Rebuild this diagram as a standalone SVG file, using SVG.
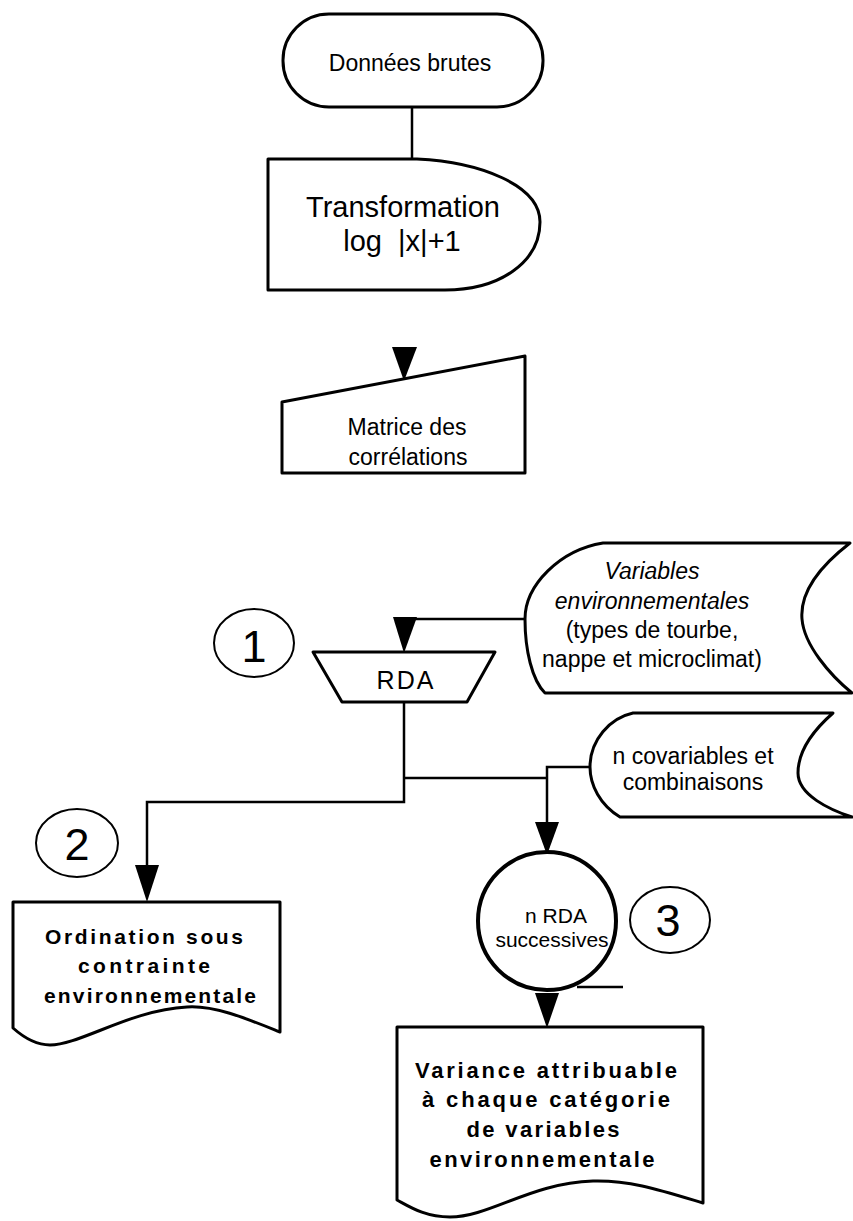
<svg xmlns="http://www.w3.org/2000/svg" width="853" height="1221" viewBox="0 0 853 1221">
<style>
.s{fill:#fff;stroke:#000;stroke-width:3;stroke-linejoin:round}
.c{fill:none;stroke:#000;stroke-width:2.5}
.n{fill:none;stroke:#000;stroke-width:2}
.a{fill:#000;stroke:none}
.t{font-family:"Liberation Sans",Arial,sans-serif;fill:#000;text-anchor:middle}
.b{font-family:"Liberation Sans",Arial,sans-serif;font-weight:bold;fill:#000;text-anchor:middle}
</style>
<rect width="853" height="1221" fill="#fff"/>
<g id="connectors">
<path class="c" d="M412,107 L412,159"/>
<polygon class="a" points="392,347 417,347 404,381"/>
<path class="c" d="M525,619 L404,619"/>
<polygon class="a" points="393,617 417,617 404,653"/>
<path class="c" d="M404,702 L404,802 L147,802 L147,866"/>
<polygon class="a" points="135,865 159,865 147,902"/>
<path class="c" d="M404,778 L547,778"/>
<path class="c" d="M590,767 L547,767 L547,823"/>
<polygon class="a" points="535,822 559,822 547,855"/>
<path class="c" d="M577,987 L623,987"/>
<polygon class="a" points="535,993 559,993 547,1028"/>
</g>
<g id="donnees">
<rect class="s" x="283" y="14" width="260" height="93" rx="46" ry="46"/>
<text class="t" x="410" y="71" font-size="23">Données brutes</text>
</g>
<g id="transformation">
<path class="s" d="M268,159 L417,159 C480,162 540,185 540,222 C540,262 500,290 445,290 L268,290 Z"/>
<text class="t" x="403" y="217" font-size="29">Transformation</text>
<text class="t" x="402" y="251" font-size="29" xml:space="preserve">log  |x|+1</text>
</g>
<g id="matrice">
<polygon class="s" points="282,402 525,356 525,473 282,473"/>
<text class="t" x="407" y="435" font-size="23">Matrice des</text>
<text class="t" x="408" y="465" font-size="23">corrélations</text>
</g>
<g id="label1">
<ellipse class="n" cx="254" cy="643" rx="40" ry="34"/>
<text class="t" x="254" y="662" font-size="45">1</text>
</g>
<g id="rda">
<polygon class="s" points="313,652 495,652 467,702 342,702"/>
<text class="t" x="406" y="689" font-size="25" letter-spacing="2">RDA</text>
</g>
<g id="variables">
<path class="s" d="M603,543 L850,543 C815,570 800,595 802,619 C804,645 830,675 852,693 L545,693 C532,680 525,650 525,619 C525,585 560,550 603,543 Z"/>
<text class="t" x="652" y="579" font-size="23" font-style="italic">Variables</text>
<text class="t" x="652" y="609" font-size="23" font-style="italic">environnementales</text>
<text class="t" x="652" y="638" font-size="23">(types de tourbe,</text>
<text class="t" x="652" y="667" font-size="23">nappe et microclimat)</text>
</g>
<g id="covariables">
<path class="s" d="M633,713 L833,713 C808,735 798,755 798,773 C798,795 830,810 852,817 L620,817 C600,805 590,785 590,767 C590,740 610,718 633,713 Z"/>
<text class="t" x="693" y="764" font-size="23">n covariables et</text>
<text class="t" x="693" y="790" font-size="23">combinaisons</text>
</g>
<g id="label2">
<ellipse class="n" cx="77" cy="843" rx="41" ry="34"/>
<text class="t" x="77" y="860" font-size="45">2</text>
</g>
<g id="ordination">
<path class="s" d="M13,902 L280,902 L280,1032 C250,1020 215,1005 187,1007 C130,1010 80,1045 50,1045 C35,1045 22,1036 13,1028 Z"/>
<text class="b" x="144" y="944" font-size="21" textLength="198" lengthAdjust="spacing">Ordination sous</text>
<text class="b" x="144" y="973" font-size="21" textLength="132" lengthAdjust="spacing">contrainte</text>
<text class="b" x="150" y="1003" font-size="21" textLength="212" lengthAdjust="spacing">environnementale</text>
</g>
<g id="nrda">
<circle cx="547" cy="921" r="69" fill="#fff" stroke="#000" stroke-width="4"/>
<text class="t" x="556" y="923" font-size="21">n RDA</text>
<text class="t" x="552" y="947" font-size="21">successives</text>
</g>
<g id="label3">
<ellipse class="n" cx="670" cy="920" rx="40" ry="33"/>
<text class="t" x="668" y="936" font-size="45">3</text>
</g>
<g id="variance">
<path class="s" d="M397,1027 L703,1027 L703,1203 C660,1190 630,1180 593,1181 C530,1183 490,1217 450,1217 C425,1217 410,1207 397,1200 Z"/>
<text class="b" x="546" y="1078" font-size="22" textLength="262" lengthAdjust="spacing">Variance attribuable</text>
<text class="b" x="546" y="1107" font-size="22" textLength="248" lengthAdjust="spacing">à chaque catégorie</text>
<text class="b" x="543" y="1137" font-size="22" textLength="153" lengthAdjust="spacing">de variables</text>
<text class="b" x="542" y="1167" font-size="22" textLength="225" lengthAdjust="spacing">environnementale</text>
</g>
</svg>
